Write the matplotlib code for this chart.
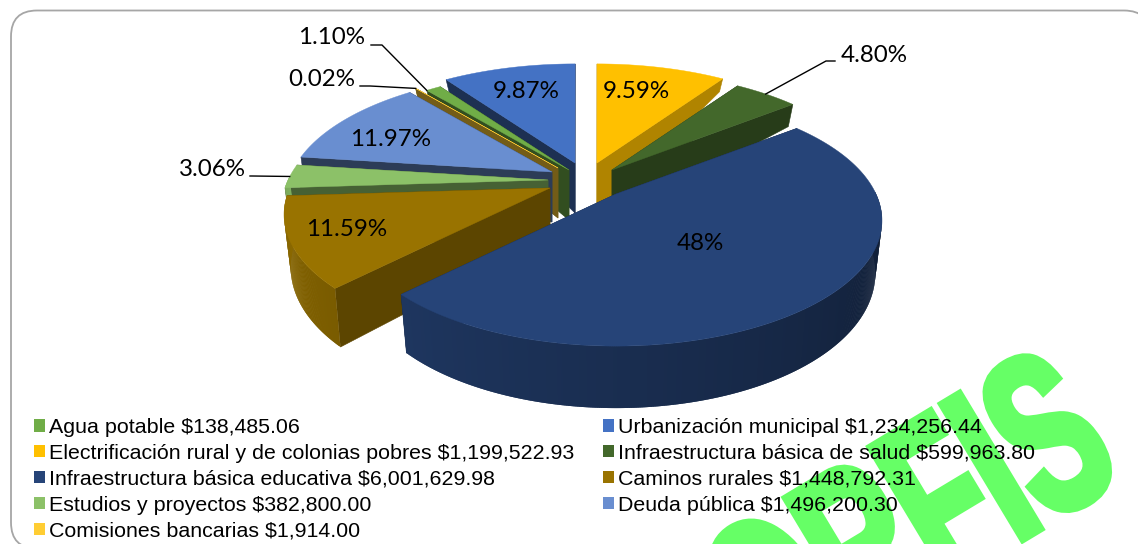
import numpy as np
import matplotlib
matplotlib.use("Agg")
import matplotlib.pyplot as plt
import matplotlib.patheffects as pe
from matplotlib.patches import Polygon, FancyBboxPatch, Patch
from matplotlib.transforms import Affine2D

names = ["Agua potable", "Urbanización municipal", "Electrificación rural y de colonias pobres",
         "Infraestructura básica de salud", "Infraestructura básica educativa", "Caminos rurales",
         "Estudios y proyectos", "Deuda pública", "Comisiones bancarias"]
amounts = [138485.06, 1234256.44, 1199522.93, 599963.80, 6001629.98, 1448792.31, 382800.00, 1496200.30, 1914.00]
pct_labels = ["1.10%", "9.87%", "9.59%", "4.80%", "48%", "11.59%", "3.06%", "11.97%", "0.02%"]
colors = ["#70AD47", "#4472C4", "#FFC000", "#43682B", "#264478", "#997300", "#8CC168", "#698ED0", "#FFCD33"]

# style
W, H = 1138, 544
first_angle = 320.5
apex_px = [(569, 170), (575, 163), (597, 163), (612, 170), (616, 194), (550, 188), (548, 180), (552, 172), (558, 168)]
cut_shade = [0.45, 0.42, 0.69, 0.58, 0.6, 0.6, 0.5, 0.42, 0.45]
Rx, Ry, k = 260, 120, 0.211
label_px = {"1.10%": (332, 38), "9.87%": (526, 92), "9.59%": (636, 92), "4.80%": (874, 55), "48%": (700, 243),
            "11.59%": (347, 230), "3.06%": (212, 170), "11.97%": (391, 140), "0.02%": (322, 80)}
# leader: first x, elbow x, y, and where along the slice's rim it ends
leaders = {"1.10%": (371, 382, 45, 0.05), "0.02%": (360, 370, 86, 0.5), "3.06%": (250, 252, 176, 0.5),
           "4.80%": (835, 826, 61, 0.5)}


class CondensedBold(pe.AbstractPathEffect):
    """Condense glyph outlines along the baseline and thicken them with a stroke."""
    def __init__(self, sx, stroke):
        super().__init__()
        self.sx, self.stroke = sx, stroke

    def draw_path(self, renderer, gc, tpath, affine, rgbFace=None):
        gc0 = renderer.new_gc()
        gc0.copy_properties(gc)
        gc0.set_linewidth(self.stroke)
        gc0.set_foreground(rgbFace)
        gc0.set_joinstyle("miter")
        renderer.draw_path(gc0, tpath, Affine2D().scale(self.sx, 1) + affine, rgbFace)
        gc0.restore()


def thick(Y):
    return np.where(Y > 0, 50 - 45 * Y, 50 - 12 * Y)


def proj(apex, X, Y, bottom=False):
    X, Y = np.asarray(X, float), np.asarray(Y, float)
    s = 1 / (1 + k * Y)
    x = Rx * X * s
    y = -Ry * Y * s
    if bottom:
        y = y + thick(Y)
        x = x * 0.975
    return np.column_stack([apex[0] + x, apex[1] + y])


def shade(c, f):
    rgb = np.array(matplotlib.colors.to_rgb(c))
    return tuple(np.clip(rgb * f, 0, 1))


fig = plt.figure(figsize=(W / 100, H / 100), dpi=100)
ax = fig.add_axes([0, 0, 1, 1])
ax.set_xlim(0, W)
ax.set_ylim(H, 0)
ax.axis("off")

ax.add_patch(FancyBboxPatch((11, 10.5), 1139, 538, boxstyle="round,pad=0,rounding_size=26",
                            fc="white", ec="#A6A6A6", lw=1.3, zorder=0, clip_on=True))

t = ax.text(768, 692, "ORFIS", rotation=31, rotation_mode="anchor", ha="left", va="baseline",
            family="Liberation Sans", fontweight="bold", fontsize=164, color="#66FF66", zorder=1, clip_on=False)
t.set_path_effects([CondensedBold(0.6, 6.0)])

shares = np.array(amounts) / np.sum(amounts) * 360
starts = (first_angle + np.concatenate([[0], np.cumsum(shares)[:-1]])) % 360
ends = starts + shares
mids = starts + shares / 2

order = np.argsort(-np.cos(np.radians(mids)))
z = 5
rims = {}
for i in order:
    n = max(3, int(shares[i] * 3) + 3)
    th = np.linspace(starts[i], ends[i], n)
    rx, ry = np.sin(np.radians(th)), np.cos(np.radians(th))
    c = colors[i]
    ap = apex_px[i]
    a_t, a_b = proj(ap, 0, 0), proj(ap, 0, 0, True)
    for j in (0, -1):
        p_t, p_b = proj(ap, rx[j], ry[j]), proj(ap, rx[j], ry[j], True)
        col = shade(c, cut_shade[i])
        ax.add_patch(Polygon(np.vstack([a_t, p_t, p_b, a_b]), fc=col, ec=col, lw=0.4, zorder=z))
    top, bot = proj(ap, rx, ry), proj(ap, rx, ry, True)
    for j in range(len(th) - 1):
        a = ((th[j] + th[j + 1]) / 2) % 360
        if np.cos(np.radians(a)) > 0.02:
            continue
        f = np.clip(0.42 + 0.5 * (a - 90) / 180, 0.42, 0.92)
        col = shade(c, f)
        j2 = min(j + 2, len(th) - 1)
        ax.add_patch(Polygon(np.vstack([top[j], top[j2], bot[j2], bot[j]]), fc=col, ec="none", zorder=z + 0.1))
    ax.add_patch(Polygon(np.vstack([a_t, top]), fc=c, ec=c, lw=0.3, zorder=z + 0.2))
    rims[pct_labels[i]] = top
    z += 1

for lab, (px, py) in label_px.items():
    ax.text(px, py, lab, ha="center", va="center", family="Lato", fontsize=17.4, color="black", zorder=30)
for lab, (x0, x1, y0, frac) in leaders.items():
    rim = rims[lab]
    a = rim[int(frac * (len(rim) - 1))]
    ax.plot([x0, x1, a[0]], [y0, y0, a[1]], color="black", lw=1.0, zorder=31)

grid = [f"{n} ${v:,.2f}" for n, v in zip(names, amounts)]
col1 = [0, 2, 4, 6, 8]
col2 = [1, 3, 5, 7]
handles = [Patch(fc=colors[i], ec="none", label=grid[i]) for i in col1 + col2]
leg = ax.legend(handles=handles, ncols=2, frameon=False, loc="upper left",
                bbox_to_anchor=(34 / W, 1 - 418 / H), bbox_transform=fig.transFigure,
                prop={"family": "Liberation Sans", "size": 15.38}, handlelength=0.52, handleheight=0.52,
                handletextpad=0.19, labelspacing=0.32, columnspacing=1.33, borderpad=0, borderaxespad=0)
leg.set_zorder(40)

fig.savefig("out.png", dpi=100)
